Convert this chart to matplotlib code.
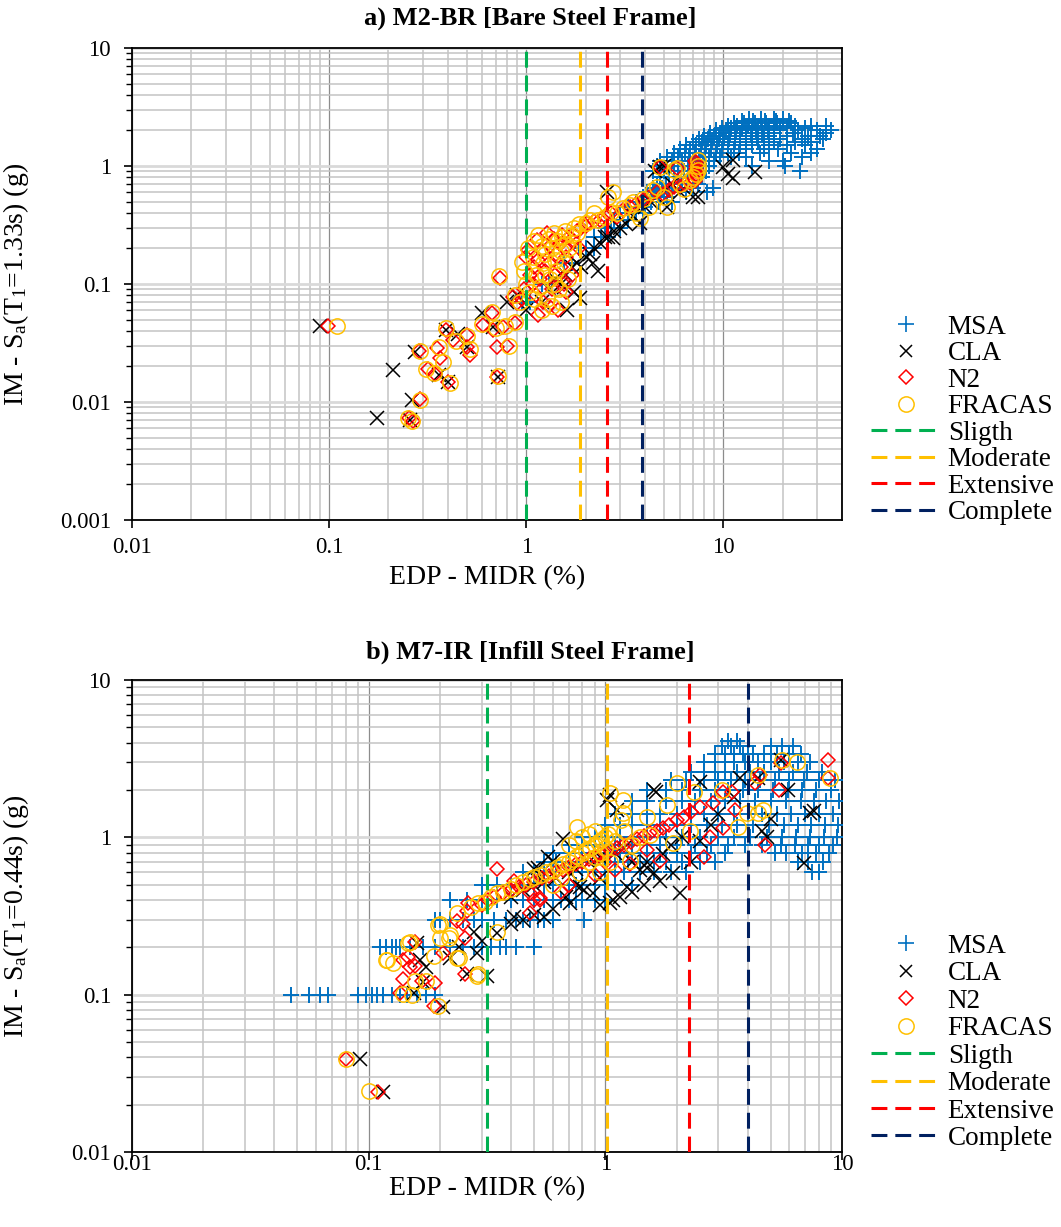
import matplotlib
matplotlib.use("Agg")
import matplotlib.pyplot as plt
from matplotlib.lines import Line2D
from matplotlib.ticker import LogLocator, NullFormatter, FuncFormatter
import numpy as np

plt.rcParams['font.family'] = ['Liberation Serif', 'DejaVu Serif']
plt.rcParams['mathtext.fontset'] = 'custom'
plt.rcParams['mathtext.rm'] = 'Liberation Serif'
plt.rcParams['mathtext.it'] = 'Liberation Serif:italic'

# ---------------- a) M2-BR : MSA stripes (IM level -> drifts) ----------------
msa_a_levels = [0.07, 0.1, 0.15, 0.2, 0.25, 0.3, 0.35, 0.4, 0.45, 0.5, 0.55, 0.6, 0.65, 0.7, 0.8,
                0.9, 1.0, 1.1, 1.2, 1.3, 1.4, 1.5, 1.6, 1.7, 1.8, 1.9, 2.0, 2.1, 2.2, 2.3, 2.4, 2.5]
msa_a_drifts = [
    [0.95, 1.05], [1.2, 1.3], [1.55, 1.7], [1.85, 2.0, 2.2], [2.2, 2.4, 2.6], [2.5, 2.7, 3.0],
    [2.8, 3.0, 3.3], [3.0, 3.3, 3.6, 3.9], [3.3, 3.6, 4.0], [3.6, 3.9, 4.3, 4.7, 5.5],
    [3.9, 4.3, 4.7, 5.2], [4.1, 4.5, 5.0, 5.5, 6.5, 8.3], [4.4, 4.9, 5.3, 6.0, 7.0, 8.9],
    [4.6, 5.1, 5.6, 6.2, 7.4], [4.8, 5.3, 5.9, 6.6, 7.8],
    [4.4, 5.0, 5.6, 6.3, 7.0, 8.2, 24.6], [4.6, 5.2, 5.9, 6.6, 7.4, 8.5, 14.0, 20.6],
    [4.8, 5.5, 6.2, 7.0, 7.9, 9.0, 17.0, 20.0], [5.2, 5.9, 6.7, 7.5, 8.5, 9.6, 11.0, 13.0, 25.0],
    [5.6, 6.4, 7.2, 8.1, 9.2, 10.5, 12.0, 15.4, 22.0, 28.0],
    [6.0, 6.8, 7.7, 8.7, 9.9, 11.3, 13.0, 16.0, 19.0, 30.0],
    [6.5, 7.3, 8.2, 9.3, 10.6, 12.1, 14.0, 17.0, 21.0, 26.0],
    [7.0, 7.8, 8.8, 10.0, 11.4, 13.0, 15.0, 18.0, 23.0, 28.0],
    [7.5, 8.4, 9.5, 10.7, 12.2, 14.0, 16.0, 19.5, 25.0, 32.0],
    [8.0, 9.0, 10.1, 11.4, 13.0, 14.8, 17.0, 21.0, 27.0, 31.0],
    [8.6, 9.6, 10.8, 12.2, 13.8, 15.8, 18.0, 22.5, 33.0],
    [9.2, 10.3, 11.6, 13.0, 14.7, 16.8, 19.5, 24.0, 30.0, 35.0],
    [9.8, 11.0, 12.4, 14.0, 15.8, 18.0, 21.0, 26.0],
    [10.5, 11.8, 13.3, 15.0, 17.0, 19.5, 23.0, 28.0, 33.0],
    [11.3, 12.8, 14.5, 16.5, 18.8, 22.0],
    [12.5, 14.2, 16.2, 18.5, 21.5],
    [13.5, 15.5, 18.0, 20.0],
]

cla_a_x = [0.09, 0.175, 0.211, 0.258, 0.264, 0.273, 0.36, 0.39, 0.40, 0.45, 0.5, 0.6, 0.68, 0.72,
           0.8, 0.9, 1.0, 1.2, 1.3, 1.5, 1.6, 1.61, 1.7, 1.8, 1.88, 1.9, 2.0, 2.1, 2.19, 2.2, 2.4,
           2.5, 2.58, 2.6, 2.76, 2.8, 3.0, 3.2, 3.5, 3.8, 4.0, 4.3, 4.5, 4.8, 5.0, 5.2, 5.5, 6.0,
           7.0, 7.4, 10.0, 10.5, 11.2, 11.2, 14.5, 1.4, 1.55, 1.75, 2.3]
cla_a_y = [0.044, 0.0073, 0.0187, 0.0071, 0.0104, 0.0266, 0.017, 0.041, 0.0147, 0.038, 0.029, 0.0567,
           0.043, 0.0163, 0.07, 0.08, 0.06, 0.07, 0.09, 0.1, 0.12, 0.06, 0.14, 0.15, 0.076, 0.14,
           0.17, 0.18, 0.15, 0.2, 0.22, 0.25, 0.6, 0.25, 0.245, 0.28, 0.3, 0.32, 0.38, 0.33, 0.45,
           0.5, 0.9, 0.98, 1.0, 0.45, 0.7, 0.6, 0.55, 0.55, 0.98, 0.85, 0.79, 1.12, 0.89, 0.11,
           0.095, 0.085, 0.13]

n2_a_x = [0.099, 0.255, 0.265, 0.286, 0.29, 0.318, 0.345, 0.354, 0.366, 0.40, 0.39, 0.426, 0.5,
          0.5, 0.52, 0.605, 0.67, 0.68, 0.71, 0.71, 0.74, 0.76, 0.8, 0.88, 0.86, 0.9,
          0.95, 0.98, 1.0, 1.02, 1.05, 1.08, 1.1, 1.12, 1.14, 1.15, 1.18, 1.2, 1.22, 1.25, 1.28,
          1.3, 1.32, 1.35, 1.38, 1.4, 1.42, 1.45, 1.48, 1.5, 1.52, 1.55, 1.58, 1.6, 1.65, 1.7,
          1.75, 1.8, 1.85, 1.6, 1.3, 1.15,
          1.9, 2.0, 2.04, 2.2, 2.37, 2.5, 2.7, 2.9, 3.1, 3.37, 3.6, 3.93, 4.2, 4.6, 4.96, 5.3,
          5.6, 6.0, 6.4, 6.8, 7.2, 7.3, 7.3, 7.3, 7.3, 7.3, 7.3, 7.2, 4.8, 5.8]
n2_a_y = [0.044, 0.0073, 0.0069, 0.027, 0.0106, 0.019, 0.0172, 0.0287, 0.0236, 0.0148, 0.041,
          0.0336, 0.037, 0.029, 0.025, 0.045, 0.057, 0.041, 0.029, 0.0163, 0.113, 0.043, 0.03,
          0.047, 0.078, 0.069,
          0.075, 0.09, 0.17, 0.194, 0.12, 0.1, 0.14, 0.08, 0.236, 0.16, 0.11, 0.19, 0.07, 0.13,
          0.27, 0.15, 0.21, 0.09, 0.24, 0.12, 0.18, 0.06, 0.22, 0.14, 0.26, 0.1, 0.2, 0.17, 0.25,
          0.12, 0.23, 0.28, 0.2, 0.085, 0.065, 0.055,
          0.3, 0.31, 0.33, 0.34, 0.35, 0.38, 0.4, 0.37, 0.42, 0.45, 0.48, 0.515, 0.55, 0.6, 0.58,
          0.62, 0.66, 0.68, 0.7, 0.72, 0.75, 0.8, 0.85, 0.9, 0.95, 1.0, 1.05, 1.1, 0.98, 0.96]

fr_a_x = [0.11, 0.252, 0.264, 0.29, 0.29, 0.31, 0.34, 0.36, 0.38, 0.41, 0.39, 0.44, 0.5, 0.52,
          0.6, 0.67, 0.7, 0.72, 0.73, 0.78, 0.82, 0.88, 0.88, 0.93,
          0.95, 0.97, 1.0, 1.02, 1.05, 1.08, 1.1, 1.12, 1.15, 1.17, 1.2, 1.22, 1.25, 1.27, 1.3,
          1.32, 1.35, 1.38, 1.4, 1.42, 1.45, 1.47, 1.5, 1.52, 1.55, 1.58, 1.6, 1.62, 1.65, 1.7,
          1.75, 1.8, 1.85, 1.2, 1.35, 1.5, 1.4, 1.25, 1.1,
          2.0, 2.1, 2.3, 2.5, 2.76, 2.6, 2.7, 2.9, 3.1, 3.37, 3.5, 3.6, 3.93, 4.2, 4.6, 4.8, 4.4,
          5.2, 5.6, 5.0, 5.8, 6.0, 6.3, 6.8, 7.3, 7.4, 7.4, 7.4, 7.0, 3.8, 2.2]
fr_a_y = [0.044, 0.0073, 0.0069, 0.027, 0.0104, 0.019, 0.0175, 0.029, 0.022, 0.0145, 0.042, 0.033,
          0.036, 0.028, 0.046, 0.058, 0.042, 0.0165, 0.116, 0.044, 0.03, 0.048, 0.08, 0.07,
          0.155, 0.13, 0.1, 0.2, 0.085, 0.17, 0.23, 0.12, 0.26, 0.095, 0.21, 0.15, 0.18, 0.075,
          0.24, 0.11, 0.2, 0.27, 0.16, 0.13, 0.23, 0.09, 0.19, 0.25, 0.15, 0.28, 0.22, 0.11, 0.2,
          0.26, 0.3, 0.27, 0.32, 0.06, 0.065, 0.07, 0.1, 0.12, 0.075,
          0.33, 0.35, 0.35, 0.37, 0.6, 0.55, 0.41, 0.4, 0.44, 0.47, 0.5, 0.4, 0.53, 0.45, 0.66,
          0.98, 0.62, 0.45, 0.92, 0.55, 0.96, 0.7, 0.64, 0.76, 0.85, 1.12, 1.0, 0.92, 0.8, 0.36,
          0.4]

ds_a = [1.0, 1.88, 2.58, 3.88]

# ---------------- b) M7-IR ----------------
msa_b_levels = [0.1, 0.2, 0.3, 0.4, 0.5, 0.6, 0.7, 0.8, 0.9, 1.0, 1.2, 1.4, 1.7, 2.0, 2.3, 2.6,
                3.0, 3.4, 3.8, 4.1]
msa_b_drifts = [
    [0.047, 0.056, 0.062, 0.067, 0.09, 0.097, 0.103, 0.108, 0.115, 0.125, 0.135, 0.145,
     0.16, 0.175, 0.19],
    [0.112, 0.118, 0.125, 0.13, 0.136, 0.15, 0.17, 0.19, 0.22, 0.25, 0.28, 0.3, 0.33, 0.36,
     0.38, 0.42, 0.5],
    [0.19, 0.2, 0.22, 0.25, 0.28, 0.3, 0.34, 0.38, 0.42, 0.45, 0.48, 0.52, 0.55, 0.6, 0.81],
    [0.22, 0.26, 0.3, 0.35, 0.4, 0.45, 0.5, 0.55, 0.6, 0.65, 0.7, 0.75, 0.8, 0.9, 1.0],
    [0.3, 0.35, 0.4, 0.45, 0.5, 0.55, 0.6, 0.7, 0.75, 0.8, 0.9, 1.0, 1.1, 1.3],
    [0.45, 0.5, 0.55, 0.6, 0.7, 0.8, 0.9, 1.0, 1.1, 1.2, 1.4, 1.6, 1.9, 2.2, 7.5, 8.0],
    [0.55, 0.62, 0.7, 0.8, 0.9, 1.0, 1.1, 1.25, 1.4, 1.6, 1.8, 2.1, 2.5, 2.9, 6.5, 7.2, 8.3],
    [0.6, 0.7, 0.8, 0.9, 1.0, 1.15, 1.3, 1.5, 1.7, 2.0, 2.3, 2.7, 3.2, 5.2, 5.8, 6.8, 7.8, 8.8],
    [0.7, 0.8, 0.9, 1.0, 1.1, 1.3, 1.5, 1.7, 2.0, 2.4, 2.8, 3.3, 3.9, 4.6, 5.5, 6.3, 7.2, 8.0,
     9.2],
    [0.8, 0.9, 1.0, 1.15, 1.3, 1.5, 1.8, 2.1, 2.5, 3.0, 3.5, 4.1, 4.8, 5.6, 6.4, 7.3, 8.4, 9.5],
    [1.0, 1.15, 1.3, 1.5, 1.7, 2.0, 2.3, 2.7, 3.1, 3.6, 4.2, 4.9, 5.7, 6.5, 7.4, 8.5, 9.6],
    [1.1, 1.3, 1.5, 1.7, 2.0, 2.3, 2.6, 3.0, 3.5, 4.0, 4.6, 5.3, 6.1, 7.0, 8.0, 9.2],
    [1.3, 1.5, 1.8, 2.1, 2.4, 2.8, 3.2, 3.7, 4.3, 5.0, 5.8, 6.7, 7.6, 8.6, 9.7],
    [1.5, 1.8, 2.1, 2.5, 2.9, 3.3, 3.8, 4.4, 5.1, 5.9, 6.8, 7.8, 9.0],
    [1.9, 2.2, 2.6, 3.0, 3.4, 3.9, 4.5, 5.2, 6.0, 6.9, 8.0, 9.3],
    [2.3, 2.6, 2.9, 3.2, 3.6, 4.1, 4.7, 5.4, 6.2, 7.1, 8.2],
    [2.6, 2.9, 3.2, 3.5, 3.9, 4.4, 5.0, 5.7, 6.5, 7.3],
    [2.9, 3.2, 3.5, 3.8, 4.2, 4.7, 5.3, 6.0, 6.7],
    [3.1, 3.4, 3.7, 4.0, 5.0, 5.6, 6.2],
    [3.3, 3.6],
]

cla_b_x = [0.092, 0.115, 0.207, 0.16, 0.165, 0.155, 0.17, 0.175, 0.288, 0.317, 0.35, 0.41, 0.4,
           0.45, 0.5, 0.55, 0.6, 0.66, 0.6, 0.5, 0.52, 0.57, 0.71, 0.78, 0.81, 0.89, 1.02, 1.05,
           1.12, 1.08, 1.24, 1.6, 1.6, 2.07, 1.5, 1.7, 1.94, 2.52, 3.7, 5.5, 7.35, 7.6, 4.83,
           6.9, 5.9, 1.63, 0.4, 0.45, 0.5, 0.55, 0.62, 0.7, 0.75, 0.85, 0.95, 1.1, 1.2, 1.3, 1.4,
           1.5, 1.75, 1.9, 2.1, 2.3, 2.5, 2.8, 3.0, 3.5, 4.4, 4.6, 5.0, 1.3, 1.45, 0.95, 0.75,
           0.68, 0.28, 0.3, 0.24, 0.22, 0.26, 0.95, 1.05, 1.15]
cla_b_y = [0.039, 0.024, 0.083, 0.214, 0.165, 0.103, 0.12, 0.15, 0.183, 0.132, 0.245, 0.31, 0.28,
           0.3, 0.32, 0.31, 0.35, 0.98, 0.71, 0.63, 0.64, 0.75, 0.38, 0.48, 0.46, 0.44, 1.72, 1.85,
           1.49, 0.4, 0.48, 2.0, 0.59, 0.44, 0.64, 0.53, 0.59, 2.24, 2.4, 3.1, 1.42, 1.48, 1.0,
           0.69, 2.0, 1.93, 0.42, 0.46, 0.5, 0.52, 0.55, 0.6, 0.63, 0.7, 0.75, 0.8, 0.85, 0.7,
           0.62, 0.7, 0.78, 0.9, 1.0, 0.7, 0.95, 1.2, 1.4, 1.8, 2.4, 1.1, 1.3, 0.45, 0.5, 0.55,
           0.5, 0.42, 0.25, 0.22, 0.2, 0.17, 0.135, 0.37, 0.38, 0.42]

n2_b_x = [0.08, 0.109, 0.35, 0.157, 0.139, 0.147, 0.15, 0.157, 0.139, 0.136, 0.168, 0.19, 0.188,
          0.207, 0.256, 0.256, 0.237, 0.26, 0.25, 0.264, 0.41, 0.53, 0.48, 0.5,
          0.3, 0.32, 0.34, 0.37, 0.4, 0.43, 0.46, 0.5, 0.54, 0.58, 0.62, 0.66, 0.7, 0.75, 0.8,
          0.85, 0.9, 0.95, 1.0, 1.06, 1.12, 1.2, 1.28, 1.36, 1.45, 1.55, 1.65, 1.75, 1.85, 2.0,
          2.15, 2.3, 2.5, 2.86, 3.15, 3.44, 1.27, 1.5, 1.7, 2.6, 2.77, 3.15, 3.54, 4.74, 5.4,
          4.3, 4.5, 5.5, 8.7, 8.7, 1.0, 1.1, 0.9, 0.65, 0.7, 0.48, 0.53]
n2_b_y = [0.039, 0.024, 0.63, 0.215, 0.165, 0.173, 0.149, 0.153, 0.126, 0.102, 0.123, 0.118,
          0.085, 0.183, 0.136, 0.23, 0.296, 0.34, 0.28, 0.38, 0.53, 0.41, 0.33, 0.4,
          0.37, 0.4, 0.42, 0.44, 0.46, 0.48, 0.5, 0.52, 0.55, 0.57, 0.6, 0.62, 0.65, 0.68, 0.7,
          0.73, 0.76, 0.78, 0.8, 0.83, 0.86, 0.9, 0.94, 0.98, 1.02, 1.06, 1.1, 1.15, 1.2, 1.28,
          1.35, 1.45, 1.55, 1.65, 1.94, 1.94, 0.68, 0.83, 0.71, 0.75, 1.0, 1.14, 1.49, 0.89,
          1.99, 2.2, 2.48, 2.96, 3.1, 2.4, 0.7, 0.62, 0.58, 0.45, 0.5, 0.44, 0.4]

fr_b_x = [0.08, 0.1, 0.118, 0.127, 0.147, 0.14, 0.153, 0.197, 0.157, 0.174, 0.188, 0.197, 0.2,
          0.218, 0.237, 0.237, 0.288, 0.35, 0.12, 0.15, 0.2, 0.22, 0.24, 0.29,
          0.27, 0.29, 0.31, 0.33, 0.35, 0.37, 0.4, 0.42, 0.45, 0.48, 0.5, 0.53, 0.56, 0.6, 0.63,
          0.66, 0.7, 0.73, 0.76, 0.8, 0.83, 0.86, 0.9, 0.93, 0.96, 1.0, 1.03, 0.7, 0.75, 0.8,
          0.85, 0.9, 0.95, 1.0, 0.85, 0.6, 0.65, 0.9, 0.78, 0.76, 1.05, 1.19, 1.19, 1.16, 1.5,
          1.83, 2.0, 2.36, 1.55, 1.94, 2.28, 1.27, 3.1, 3.65, 3.98, 4.4, 4.65, 4.4, 5.6, 6.45,
          8.9, 1.1, 1.3, 1.4, 1.2, 1.05, 0.95]
fr_b_y = [0.039, 0.0245, 0.165, 0.16, 0.214, 0.101, 0.099, 0.085, 0.123, 0.123, 0.177, 0.276,
          0.228, 0.228, 0.33, 0.17, 0.132, 0.25, 0.165, 0.215, 0.28, 0.24, 0.17, 0.136,
          0.36, 0.38, 0.39, 0.42, 0.44, 0.45, 0.47, 0.5, 0.52, 0.54, 0.56, 0.58, 0.6, 0.62, 0.65,
          0.68, 0.7, 0.73, 0.76, 0.8, 0.83, 0.86, 0.9, 0.93, 0.96, 1.0, 1.05, 0.9, 0.95, 1.0,
          1.05, 1.1, 0.8, 0.85, 0.7, 0.5, 0.55, 0.75, 0.59, 1.16, 1.9, 1.72, 1.42, 1.28, 1.34,
          1.6, 2.2, 1.94, 1.03, 0.92, 1.1, 0.71, 2.0, 1.16, 1.42, 1.42, 1.49, 2.48, 3.1, 3.0,
          2.4, 0.95, 0.9, 1.0, 1.1, 0.7, 0.6]

ds_b = [0.315, 1.02, 2.26, 4.02]

ds_names = ['Sligth', 'Moderate', 'Extensive', 'Complete']
ds_colors = ['#00B050', '#FFC000', '#FF0000', '#002060']

C_MSA, C_CLA, C_N2, C_FR = '#0070C0', '#000000', '#FF0000', '#FFC000'

TICK_FS = 16.5
LABEL_FS = 20
LEGEND_FS = 19.5
TITLE_FS = 19


def expand(levels, drifts):
    xs, ys = [], []
    for lv, dr in zip(levels, drifts):
        xs.extend(dr)
        ys.extend([lv] * len(dr))
    return xs, ys


def style_axes(ax, xlim, ylim, ylabel, xpad):
    ax.set_xscale('log')
    ax.set_yscale('log')
    ax.set_xlim(*xlim)
    ax.set_ylim(*ylim)
    fmt = FuncFormatter(lambda v, p: '%g' % v)
    ax.xaxis.set_major_locator(LogLocator(base=10, numticks=20))
    ax.yaxis.set_major_locator(LogLocator(base=10, numticks=20))
    ax.xaxis.set_minor_locator(LogLocator(base=10, subs=np.arange(2, 10), numticks=50))
    ax.yaxis.set_minor_locator(LogLocator(base=10, subs=np.arange(2, 10), numticks=50))
    ax.xaxis.set_major_formatter(fmt)
    ax.yaxis.set_major_formatter(fmt)
    ax.xaxis.set_minor_formatter(NullFormatter())
    ax.yaxis.set_minor_formatter(NullFormatter())
    ax.grid(which='minor', axis='both', color='#C4C4C4', lw=1.1, zorder=0)
    ax.grid(which='major', axis='y', color='#D9D9D9', lw=2.0, zorder=0)
    ax.grid(which='major', axis='x', color='#8C8C8C', lw=0.9, zorder=0)
    ax.set_axisbelow(True)
    ax.tick_params(axis='both', which='major', labelsize=TICK_FS, direction='out', length=6,
                   width=1.2)
    ax.tick_params(axis='y', which='major', pad=9)
    ax.tick_params(axis='x', which='major', pad=xpad)
    ax.tick_params(axis='y', which='minor', direction='out', length=4, width=1.0)
    ax.tick_params(axis='x', which='minor', length=0)
    for s in ax.spines.values():
        s.set_linewidth(1.3)
        s.set_color('black')
    ax.set_ylabel(ylabel, fontsize=LABEL_FS)
    ax.yaxis.set_label_coords(-0.142, 0.5)
    ax.set_xlabel('EDP - MIDR (%)', fontsize=LABEL_FS)


def draw(ax, msa, cla, n2, fr, ds):
    ax.plot(msa[0], msa[1], ls='none', marker='+', ms=12, mew=1.4, color=C_MSA, zorder=3)
    ax.plot(cla[0], cla[1], ls='none', marker='x', ms=9.5, mew=1.1, color=C_CLA, zorder=4)
    ax.plot(n2[0], n2[1], ls='none', marker='D', ms=7, mew=1.1, mfc='none', mec=C_N2, zorder=5)
    ax.plot(fr[0], fr[1], ls='none', marker='o', ms=11, mew=1.1, mfc='none', mec=C_FR, zorder=6)
    for xv, c in zip(ds, ds_colors):
        ax.axvline(xv, color=c, lw=2.2, dashes=(5.2, 2.6), zorder=7)


def legend(ax, top, spacing):
    handles = [
        Line2D([], [], ls='none', marker='+', ms=12, mew=1.2, color=C_MSA),
        Line2D([], [], ls='none', marker='x', ms=9, mew=1.1, color=C_CLA),
        Line2D([], [], ls='none', marker='D', ms=7, mew=1.1, mfc='none', mec=C_N2),
        Line2D([], [], ls='none', marker='o', ms=11, mew=1.1, mfc='none', mec=C_FR),
    ] + [Line2D([], [], color=c, lw=2.2, dashes=(5.2, 2.6)) for c in ds_colors]
    labels = ['MSA', 'CLA', 'N2', 'FRACAS'] + ds_names
    ax.legend(handles, labels, loc='upper left', bbox_to_anchor=(1.025, top), frameon=False,
              fontsize=LEGEND_FS, handlelength=2.6, handletextpad=0.25, labelspacing=spacing,
              borderaxespad=0.0)


fig = plt.figure(figsize=(10.61, 12.27), dpi=100)

ax1 = fig.add_axes([132 / 1061, 1 - 520 / 1227, 710 / 1061, 472 / 1227])
draw(ax1, expand(msa_a_levels, msa_a_drifts), (cla_a_x, cla_a_y), (n2_a_x, n2_a_y),
     (fr_a_x, fr_a_y), ds_a)
style_axes(ax1, (0.01, 40), (0.001, 10),
           r'IM - S$_{\mathregular{a}}$(T$_{\mathregular{1}}$=1.33s) (g)', 6)
ax1.xaxis.set_label_coords(0.5, -0.095)
legend(ax1, 0.458, 0.055)
fig.text(0.5, 1 - 18 / 1227, 'a) M2-BR [Bare Steel Frame]', ha='center', va='center',
         fontsize=TITLE_FS, fontweight='bold')

ax2 = fig.add_axes([132 / 1061, 1 - 1152 / 1227, 710 / 1061, 472 / 1227])
draw(ax2, expand(msa_b_levels, msa_b_drifts), (cla_b_x, cla_b_y), (n2_b_x, n2_b_y),
     (fr_b_x, fr_b_y), ds_b)
style_axes(ax2, (0.01, 10), (0.01, 10),
           r'IM - S$_{\mathregular{a}}$(T$_{\mathregular{1}}$=0.44s) (g)', -4.5)
ax2.xaxis.set_label_coords(0.5, -0.052)
legend(ax2, 0.485, 0.09)
fig.text(0.5, 1 - 652 / 1227, 'b) M7-IR [Infill Steel Frame]', ha='center', va='center',
         fontsize=TITLE_FS, fontweight='bold')

fig.savefig('out.png', dpi=100)
